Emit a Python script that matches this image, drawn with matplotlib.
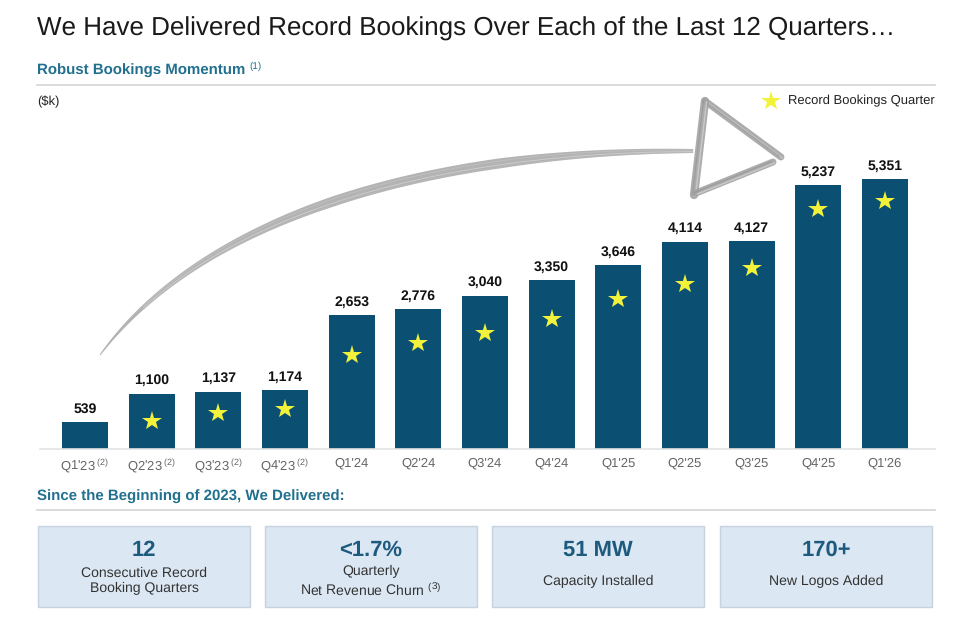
"""
record bookings chart - bars with stars, brush arrow and kpi boxes
"""

import numpy as np
import matplotlib
matplotlib.use("Agg")
import matplotlib.pyplot as plt
from matplotlib.patches import Rectangle, Polygon

plt.rcParams['font.family'] = ['Liberation Sans', 'DejaVu Sans']
plt.rcParams['mathtext.fontset'] = 'custom'
plt.rcParams['mathtext.rm'] = 'Liberation Sans'
plt.rcParams['text.hinting'] = 'no_hinting'
plt.rcParams['text.hinting_factor'] = 1

quarters = ["Q1'23", "Q2'23", "Q3'23", "Q4'23", "Q1'24", "Q2'24", "Q3'24",
            "Q4'24", "Q1'25", "Q2'25", "Q3'25", "Q4'25", "Q1'26"]
notes = ["(2)", "(2)", "(2)", "(2)", "", "", "", "", "", "", "", "", ""]
bookings = [539, 1100, 1137, 1174, 2653, 2776, 3040, 3350, 3646, 4114, 4127, 5237, 5351]
record = [False] + [True] * 12
# star height inside each bar
star_y = [0, 555, 713, 793, 1863, 2100, 2299, 2576, 2973, 3270, 3587, 4756, 4915]

kpi_big = ["12", "<1.7%", "51 MW", "170+"]
kpi_small = ["Consecutive Record\nBooking Quarters",
             "Quarterly\nNet Revenue Churn $^{(3)}$",
             "Capacity Installed",
             "New Logos Added"]

bar_col = '#0b4f73'
teal = '#22708f'
star_col = '#f3f23a'

W, H = 960, 629
fig = plt.figure(figsize=(W / 100, H / 100), dpi=100)

# overlay in pixel coords for headings, arrow, boxes
ov = fig.add_axes([0, 0, 1, 1], zorder=0)
ov.set_xlim(0, W)
ov.set_ylim(H, 0)
ov.axis('off')

ax = fig.add_axes([40 / W, (H - 449) / H, (935 - 40) / W, (449 - 96) / H], zorder=1)
ax.patch.set_alpha(0)

x = np.arange(len(quarters))
ax.bar(x, bookings, width=0.69, color=bar_col, zorder=2)
for i, v in enumerate(bookings):
    ax.text(i, v + 130, f"{v:,}", ha='center', va='bottom', fontsize=10,
            fontweight='bold', color='#111111')
    if record[i]:
        ax.plot(i, star_y[i], marker='*', markersize=15, color=star_col,
                markeredgewidth=0, zorder=3)

ax.set_xlim(-0.675, 12.75)
ax.set_ylim(0, 7000)
for s in ['top', 'right', 'left']:
    ax.spines[s].set_visible(False)
ax.spines['bottom'].set_color('#e3e3e3')
ax.spines['bottom'].set_linewidth(1.2)
ax.set_yticks([])
ax.set_xticks(x)
ax.set_xticklabels([q + (f"$\\,^{{{n}}}$" if n else "") for q, n in zip(quarters, notes)],
                   fontsize=9.3, color='#666666')
ax.tick_params(axis='x', length=0, pad=6)

# legend
ov.plot(771, 101, marker='*', markersize=15, color=star_col, markeredgewidth=0)
ov.text(788, 101, "Record Bookings Quarter", fontsize=9.1, color='#222222', va='center')

# headings
ov.text(37, 29, "We Have Delivered Record Bookings Over Each of the Last 12 Quarters\u2026",
        fontsize=18.4, color='#1a1a1a', va='center')
sub = ov.text(37, 71, "Robust Bookings Momentum", fontsize=10.8, fontweight='bold',
              color=teal, va='center')
ov.annotate("(1)", xy=(1, 1), xycoords=sub, xytext=(3, -2), textcoords='offset points',
            fontsize=7, color=teal, va='center')
ov.plot([37, 935], [85, 85], color='#d4d4d4', lw=1.2)
ov.text(37, 102, "($k)", fontsize=9, color='#222222', va='center')

ov.text(37, 497, "Since the Beginning of 2023, We Delivered:", fontsize=10.8,
        fontweight='bold', color=teal, va='center')
ov.plot([37, 935], [510, 510], color='#d4d4d4', lw=1.2)

# brush arrow
P = np.array([[100, 355], [200, 220], [420, 150], [693, 151]], float)
t = np.linspace(0, 1, 240)[:, None]
curve = ((1 - t) ** 3 * P[0] + 3 * (1 - t) ** 2 * t * P[1]
         + 3 * (1 - t) * t ** 2 * P[2] + t ** 3 * P[3])
d = np.gradient(curve, axis=0)
nrm = np.c_[-d[:, 1], d[:, 0]]
nrm /= np.linalg.norm(nrm, axis=1)[:, None]
tt = t[:, 0]
wid = 0.5 + 4.5 * np.clip(tt / 0.5, 0, 1) ** 0.8 - 3.0 * np.clip((tt - 0.75) / 0.25, 0, 1)
upper = curve + nrm * wid[:, None]
lower = curve - nrm * wid[:, None]
ov.add_patch(Polygon(np.vstack([upper, lower[::-1]]), closed=True,
                     color='#ababab', alpha=0.9, lw=0))
for off, a, c in [(1.5, 0.8, '#d2d2d2'), (-2.5, 0.6, '#c6c6c6'), (3.8, 0.5, '#bdbdbd')]:
    c2 = curve + nrm * off * np.clip(wid / 5, 0.2, 1)[:, None]
    ov.plot(c2[30:, 0], c2[30:, 1], color=c, lw=0.7, alpha=a)
# arrow head strokes
for (x0, y0), (x1, y1), lw in [((705, 101), (781, 157), 5.0),
                               ((705, 101), (694, 195), 6.0),
                               ((696, 193), (773, 162), 5.0)]:
    ov.plot([x0, x1], [y0, y1], color='#a3a3a3', lw=lw, alpha=0.9,
            solid_capstyle='round')
    ov.plot([x0 + 1.5, x1 + 1.5], [y0 + 1, y1 + 1], color='#d0d0d0', lw=1.0, alpha=0.8)
    ov.plot([x0 - 1.5, x1 - 1.5], [y0 - 0.5, y1 - 0.5], color='#8f8f8f', lw=0.8, alpha=0.6)

# kpi boxes
box_x = [38, 265, 492, 720]
for bx, big, small in zip(box_x, kpi_big, kpi_small):
    ov.add_patch(Rectangle((bx, 526), 212, 81, facecolor='#dbe7f3',
                           edgecolor='#c6d3df', lw=1.0))
    cx = bx + 106
    ov.text(cx, 550, big, ha='center', va='center', fontsize=16,
            fontweight='bold', color='#1d5b7e')
    ov.text(cx, 581, small, ha='center', va='center', fontsize=10,
            color='#333333', linespacing=1.2)

fig.savefig('out.png', dpi=100, facecolor='white')
